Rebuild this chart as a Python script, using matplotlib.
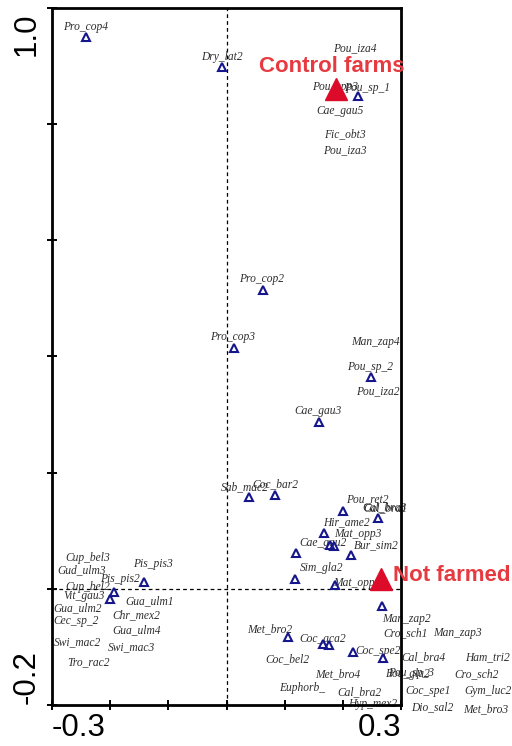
"""
CCA-style ordination biplot: species scores vs. farm treatment centroids.
"""

import matplotlib
matplotlib.use("Agg")

import matplotlib.pyplot as plt
import numpy as np

# species points (open triangles)
POINT_X = [-0.2415, -0.0077, 0.226, 0.0627, 0.0129, 0.248, 0.159, 0.0387, 0.0834,
           0.200, 0.260, 0.168, 0.178, 0.185, 0.1195, 0.214, 0.118, 0.1865,
           -0.142, -0.193, -0.200, 0.267, 0.1057, 0.166, 0.176, 0.2175, 0.269]
POINT_Y = [0.950, 0.898, 0.848, 0.514, 0.415, 0.365, 0.287, 0.158, 0.162,
           0.134, 0.122, 0.096, 0.0754, 0.0737, 0.0616, 0.058, 0.0169, 0.0065,
           0.0117, -0.0055, -0.0176, -0.0296, -0.083, -0.095, -0.097, -0.109, -0.1195]

# species labels as placed by the ordination program
LABEL_NAMES = ["Pro_cop4", "Dry_lat2", "Pou_iza4", "Pou_spp3", "Pou_sp_1", "Cae_gau5",
               "Fic_obt3", "Pou_iza3", "Pro_cop2", "Pro_cop3", "Man_zap4", "Pou_sp_2",
               "Pou_iza2", "Cae_gau3", "Sab_mac2", "Coc_bar2", "Pou_ret2", "Cal_bra1",
               "Cal_bra3", "Hir_ame2", "Mat_opp3", "Cae_gau2", "Bur_sim2", "Sim_gla2",
               "Mat_opp2", "Pis_pis3", "Pis_pis2", "Cup_bel3", "Gud_ulm3", "Cup_bel2",
               "Vit_gau3", "Gua_ulm2", "Cec_sp_2", "Gua_ulm1", "Chr_mex2", "Gua_ulm4",
               "Swi_mac2", "Swi_mac3", "Tro_rac2", "Man_zap2", "Cro_sch1", "Man_zap3",
               "Met_bro2", "Coc_aca2", "Coc_bel2", "Coc_spe2", "Cal_bra4", "Ham_tri2",
               "Met_bro4", "Bou_gla2", "Pou_sp_3", "Cro_sch2", "Euphorb_", "Cal_bra2",
               "Coc_spe1", "Gym_luc2", "Hyp_mex2", "Dio_sal2", "Met_bro3"]
LABEL_X = [-0.243, -0.0077, 0.221, 0.1865, 0.2415, 0.195,
           0.2037, 0.2037, 0.061, 0.011, 0.2553, 0.2467,
           0.260, 0.1573, 0.0318, 0.0834, 0.2415, 0.274,
           0.2708, 0.2055, 0.226, 0.166, 0.257, 0.164,
           0.224, -0.1264, -0.183, -0.238, -0.2484, -0.238,
           -0.245, -0.2553, -0.2587, -0.1315, -0.1556, -0.1539,
           -0.257, -0.1625, -0.2364, 0.3086, 0.307, 0.3963,
           0.0748, 0.166, 0.104, 0.2604, 0.3378, 0.4479,
           0.1917, 0.3125, 0.3175, 0.4307, 0.1298, 0.2278,
           0.3464, 0.4496, 0.2518, 0.3533, 0.446]
LABEL_Y = [0.967, 0.916, 0.931, 0.864, 0.862, 0.823,
           0.782, 0.756, 0.5334, 0.4336, 0.425, 0.382,
           0.3396, 0.306, 0.175, 0.180, 0.1546, 0.139,
           0.141, 0.1148, 0.094, 0.0789, 0.0754, 0.0358,
           0.010, 0.0427, 0.0169, 0.0530, 0.0324, 0.0031,
           -0.0124, -0.033, -0.0555, -0.0210, -0.0451, -0.0709,
           -0.0916, -0.1002, -0.1260, -0.0521, -0.0762, -0.0762,
           -0.0692, -0.0847, -0.1209, -0.1071, -0.1174, -0.1174,
           -0.1467, -0.1467, -0.1450, -0.1467, -0.1708, -0.1777,
           -0.1760, -0.1760, -0.1983, -0.2034, -0.2069]

# treatment centroids
TREAT_NAMES = ["Control farms", "Not farmed"]
TREAT_X = [0.188, 0.265]
TREAT_Y = [0.861, 0.0169]

X_TICKS = np.round(np.arange(-0.3, 0.31, 0.1), 2)
Y_TICKS = np.round(np.arange(-0.2, 1.01, 0.2), 2)

SERIF = ["Liberation Serif", "DejaVu Serif"]
SANS = ["Liberation Sans", "DejaVu Sans"]
NAVY = "#16168c"
RED = "#dc0b2a"


def draw_frame(ax):
    ax.set_xlim(-0.3, 0.3)
    ax.set_ylim(-0.2, 1.0)
    ax.set_xticks(X_TICKS)
    ax.set_yticks(Y_TICKS)
    ax.tick_params(direction="inout", length=7, width=1.4, labelbottom=False, labelleft=False)
    for spine in ax.spines.values():
        spine.set_linewidth(2)
    ax.axvline(0, color="black", lw=0.9, ls=(0, (3, 2.5)), zorder=1)
    ax.axhline(0, color="black", lw=0.9, ls=(0, (3, 2.5)), zorder=1)

    # end labels only, as in the original export
    big = dict(fontsize=22.5, family=SANS, color="black")
    ax.annotate("-0.3", xy=(-0.3, 0), xycoords=("data", "axes fraction"), xytext=(0, -6),
                textcoords="offset points", ha="left", va="top", **big)
    ax.annotate("0.3", xy=(0.3, 0), xycoords=("data", "axes fraction"), xytext=(0, -6),
                textcoords="offset points", ha="right", va="top", **big)
    ax.annotate("1.0", xy=(0, 1.0), xycoords=("axes fraction", "data"), xytext=(-18, -3),
                textcoords="offset points", ha="center", va="top", rotation=90, **big)
    ax.annotate("-0.2", xy=(0, -0.2), xycoords=("axes fraction", "data"), xytext=(-18, 1),
                textcoords="offset points", ha="center", va="bottom", rotation=90, **big)


def main():
    fig = plt.figure(figsize=(5.12, 7.46), dpi=100)
    ax = fig.add_axes([52 / 512, 1 - 705 / 746, 349 / 512, 697 / 746])
    draw_frame(ax)

    ax.plot(POINT_X, POINT_Y, ls="none", marker="^", ms=6, mew=1.5,
            mfc="none", mec=NAVY, zorder=3)

    for name, x, y in zip(LABEL_NAMES, LABEL_X, LABEL_Y):
        ax.text(x, y, name, fontsize=8.3, family=SERIF, style="italic", color="#2e2e2e",
                ha="center", va="center", zorder=2, clip_on=False)

    ax.plot(TREAT_X, TREAT_Y, ls="none", marker="^", ms=16, color=RED, zorder=5, clip_on=False)
    ax.text(0.0559, 0.900, TREAT_NAMES[0], fontsize=16, family=SANS, weight="bold",
            color="#e63a40", ha="left", va="center", zorder=6, clip_on=False)
    ax.text(0.2862, 0.0238, TREAT_NAMES[1], fontsize=16, family=SANS, weight="bold",
            color="#e63a40", ha="left", va="center", zorder=6, clip_on=False)

    fig.savefig("out.png", dpi=100)
    plt.close(fig)


if __name__ == "__main__":
    main()
